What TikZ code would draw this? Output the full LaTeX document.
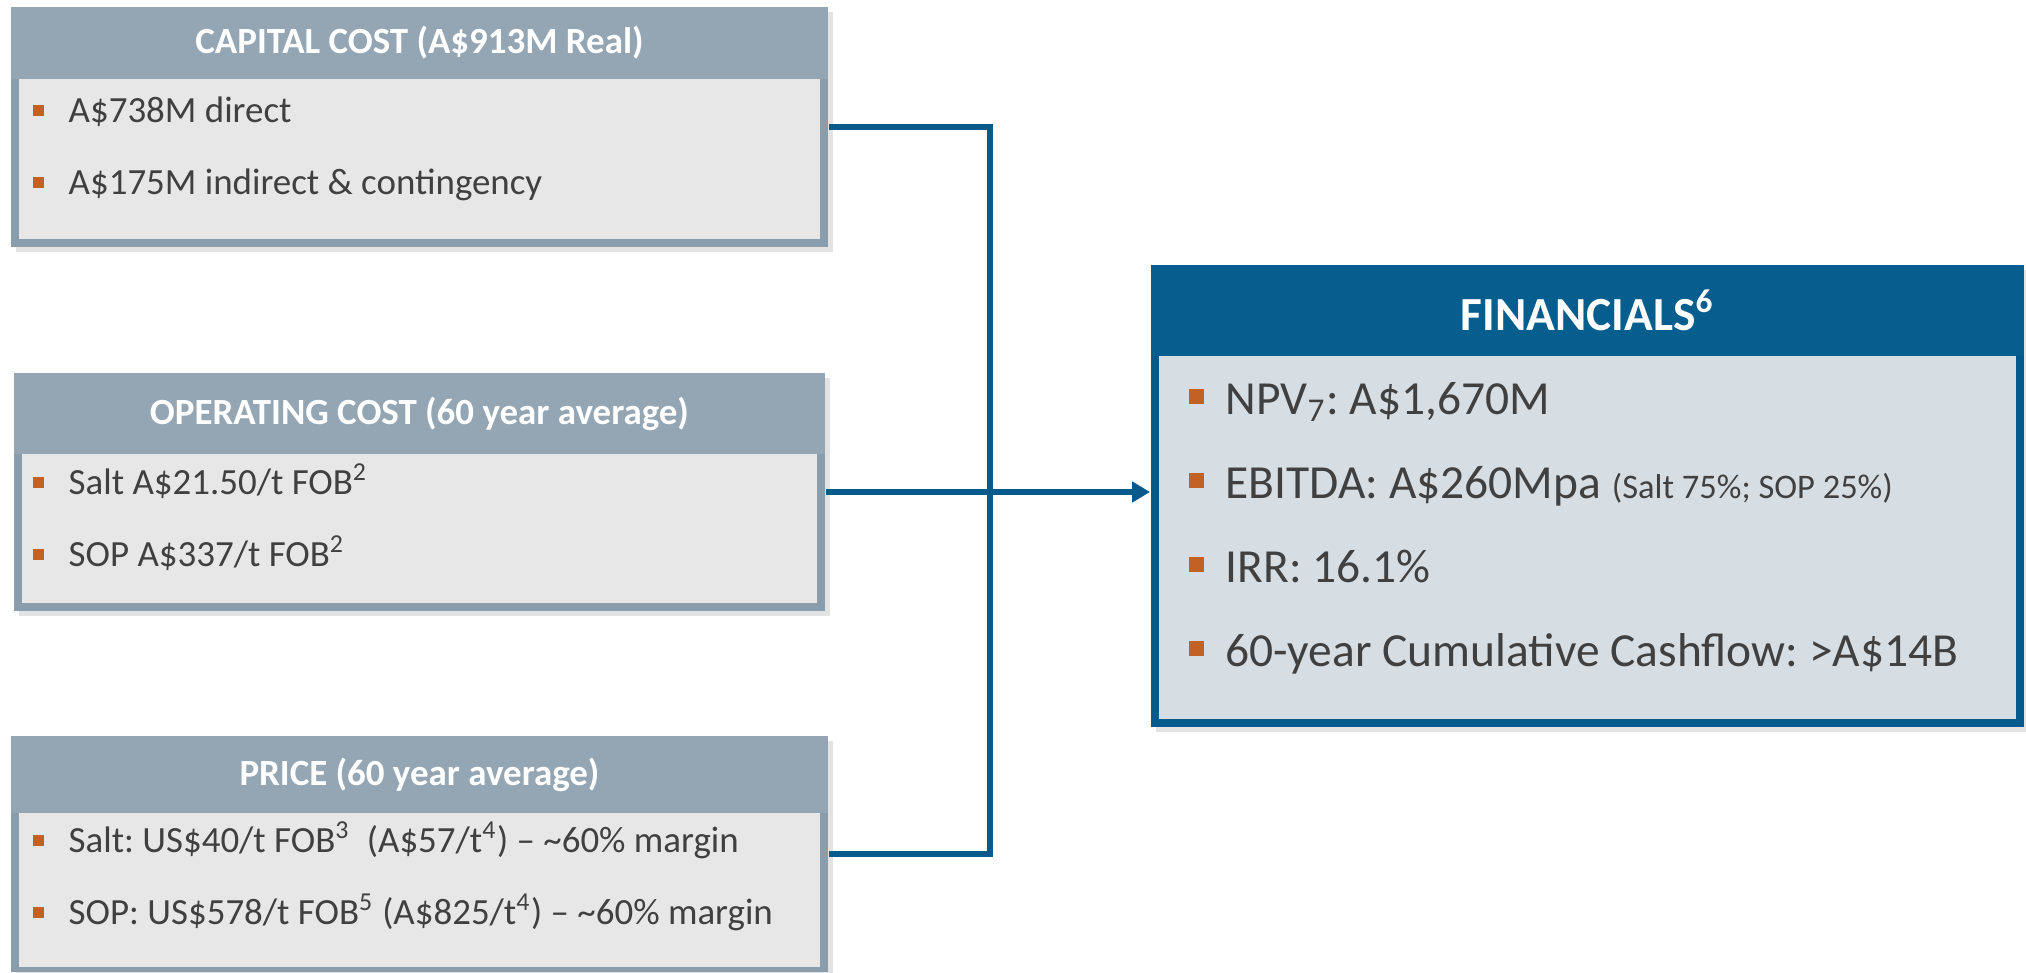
\documentclass[tikz,border=0pt]{standalone}
\usepackage{fontspec}
\setmainfont{Carlito}
\usetikzlibrary{arrows.meta,shadows}
\frenchspacing

\definecolor{hdrgrey}{HTML}{94A6B4}
\definecolor{bordgrey}{HTML}{8A9DAD}
\definecolor{bodygrey}{HTML}{E7E7E7}
\definecolor{finblue}{HTML}{065E8F}
\definecolor{finbord}{HTML}{02598B}
\definecolor{finbody}{HTML}{D6DEE4}
\definecolor{linkblue}{HTML}{075A8A}
\definecolor{bulletor}{HTML}{C16224}
\definecolor{txtgrey}{HTML}{404040}

\begin{document}
\begin{tikzpicture}[x=0.01cm, y=-0.01cm,
    panel/.style={fill=#1, inner sep=0pt, drop shadow={shadow xshift=1.4pt, shadow yshift=-1.4pt, opacity=0.22}},
    head/.style={fill=#1, inner sep=0pt, text=white, font=\bfseries\fontsize{10.5}{12}\selectfont},
    body/.style={fill=#1, inner sep=0pt},
    sq/.style={fill=bulletor, inner sep=0pt, minimum size=#1},
    item/.style={anchor=base west, inner sep=0pt, text=txtgrey, font=\fontsize{10.5}{12}\selectfont},
    bigitem/.style={item, font=\fontsize{13.5}{16}\selectfont},
    link/.style={draw=linkblue, line width=1.7pt}]
    \useasboundingbox (0,0) rectangle (2026,972);

    % capital cost
    \node[panel=bordgrey, minimum width=8.17cm, minimum height=2.40cm] (capex) at (419.5,127) {};
    \node[head=hdrgrey, minimum width=8.17cm, minimum height=0.72cm] (capexhead) at (419.5,43) {CAPITAL COST (A\$913M Real)};
    \node[body=bodygrey, minimum width=8.01cm, minimum height=1.60cm] (capexbody) at (419.5,159) {};
    \node[sq=0.11cm] (capexb1) at (38.5,110) {};
    \node[item] (capext1) at (68,122) {A\$738M direct};
    \node[sq=0.11cm] (capexb2) at (38.5,182) {};
    \node[item] (capext2) at (68,194) {A\$175M indirect \& contingency};

    % operating cost
    \node[panel=bordgrey, minimum width=8.11cm, minimum height=2.38cm] (opex) at (419.5,492) {};
    \node[head=hdrgrey, minimum width=8.11cm, minimum height=0.81cm] (opexhead) at (419.5,413.5) {OPERATING COST (60 year average)};
    \node[body=bodygrey, minimum width=7.95cm, minimum height=1.49cm] (opexbody) at (419.5,528.5) {};
    \node[sq=0.11cm] (opexb1) at (38.5,482) {};
    \node[item] (opext1) at (68,494) {Salt A\$21.50/t FOB\textsuperscript{2}};
    \node[sq=0.11cm] (opexb2) at (38.5,554) {};
    \node[item] (opext2) at (68,566) {SOP A\$337/t FOB\textsuperscript{2}};

    % price
    \node[panel=bordgrey, minimum width=8.17cm, minimum height=2.36cm] (price) at (419.5,854) {};
    \node[head=hdrgrey, minimum width=8.17cm, minimum height=0.77cm] (pricehead) at (419.5,774.5) {PRICE (60 year average)};
    \node[body=bodygrey, minimum width=8.01cm, minimum height=1.54cm] (pricebody) at (419.5,890) {};
    \node[sq=0.11cm] (priceb1) at (38.5,840) {};
    \node[item] (pricet1) at (68,852) {Salt: US\$40/t FOB\textsuperscript{3}\ \ (A\$57/t\textsuperscript{4}) -- \textasciitilde60\% margin};
    \node[sq=0.11cm] (priceb2) at (38.5,912) {};
    \node[item] (pricet2) at (68,924) {SOP: US\$578/t FOB\textsuperscript{5} (A\$825/t\textsuperscript{4}) -- \textasciitilde60\% margin};

    % financials
    \node[panel=finbord, minimum width=8.73cm, minimum height=4.62cm] (fin) at (1587.5,496) {};
    \node[head=finblue, minimum width=8.73cm, minimum height=0.91cm, font=\bfseries\fontsize{13.5}{16}\selectfont] (finhead) at (1587.5,310.5) {FINANCIALS\textsuperscript{6}};
    \node[body=finbody, minimum width=8.57cm, minimum height=3.63cm] (finbody) at (1587.5,537.5) {};
    \node[sq=0.15cm] (finb1) at (1196,396) {};
    \node[bigitem] (fint1) at (1225,414) {NPV\textsubscript{7}: A\$1,670M};
    \node[sq=0.15cm] (finb2) at (1196,480) {};
    \node[bigitem] (fint2) at (1225,498) {EBITDA: A\$260Mpa {\fontsize{9.8}{12}\selectfont(Salt 75\%; SOP 25\%)}};
    \node[sq=0.15cm] (finb3) at (1196,564) {};
    \node[bigitem] (fint3) at (1225,582) {IRR: 16.1\%};
    \node[sq=0.15cm] (finb4) at (1196,648) {};
    \node[bigitem] (fint4) at (1225,666) {60-year Cumulative Cashflow: >A\$14B};

    % connectors
    \coordinate (bus) at (990,492);
    \draw[link] (capex.east) -| (bus) |- (price.east);
    \draw[link,-{Triangle[length=5.1pt,width=5.7pt]}] (opex.east) -- (opex.east -| fin.west);
\end{tikzpicture}
\end{document}
